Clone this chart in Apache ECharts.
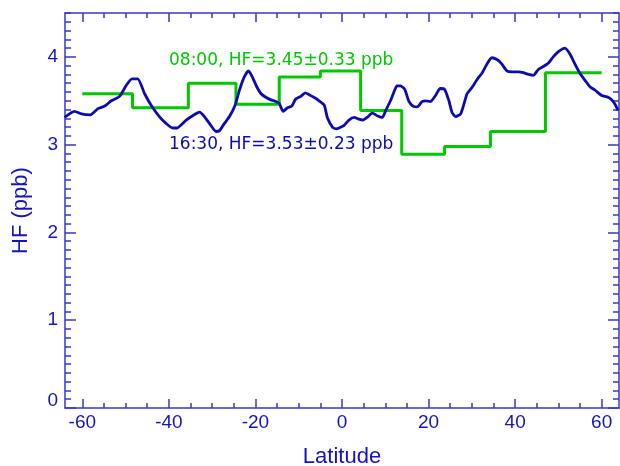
<!DOCTYPE html>
<html>
<head>
<meta charset="utf-8">
<script src="https://cdn.jsdelivr.net/npm/echarts@6/dist/echarts.min.js"></script>
<style>
  html, body { margin: 0; padding: 0; background: #fff; }
  #chart { width: 620px; height: 466px; }
</style>
</head>
<body>
<div id="chart"></div>
<script>
// blue trace, 16:30 (latitude, HF ppb)
const lat1630 = [-64.1, -61.8, -60.2, -58.1, -56.4, -54.8, -53.3, -51.4, -49.8, -48.5, -47.2, -45.6, -44.1, -42.2, -40.6, -39.1, -38.2, -36.0, -34.5, -32.9,
  -31.8, -30.6, -29.1, -28.3, -27.2, -26.0, -24.7, -23.7, -22.6, -21.6, -20.7, -19.7, -18.7, -17.6, -16.4, -15.7, -14.5, -13.6, -12.6, -11.6,
  -10.7, -9.5, -8.5, -7.6, -6.5, -5.3, -4.1, -3.4, -2.2, -1.3, -0.7, 0.5, 1.6, 2.8, 3.9, 4.8, 5.8, 7.0, 8.1, 9.3,
  10.1, 11.2, 12.0, 12.7, 13.5, 14.5, 15.4, 16.4, 17.4, 18.5, 19.4, 20.4, 21.6, 22.7, 23.7, 24.7, 25.4, 26.3, 27.4, 28.1,
  28.9, 30.0, 30.8, 31.6, 32.3, 33.5, 34.6, 35.8, 36.9, 38.1, 39.2, 40.8, 41.9, 43.1, 44.2, 45.4, 46.5, 47.7, 48.8, 50.0,
  51.5, 52.7, 53.8, 55.0, 56.2, 57.3, 58.5, 60.0, 61.5, 62.7, 63.8]
const hf1630 = [3.31, 3.38, 3.35, 3.34, 3.41, 3.44, 3.50, 3.55, 3.68, 3.75, 3.75, 3.58, 3.45, 3.32, 3.24, 3.19, 3.19, 3.28, 3.33, 3.37,
  3.32, 3.24, 3.15, 3.16, 3.24, 3.32, 3.45, 3.62, 3.77, 3.84, 3.77, 3.66, 3.58, 3.54, 3.51, 3.50, 3.47, 3.38, 3.42, 3.44,
  3.52, 3.55, 3.59, 3.57, 3.54, 3.50, 3.45, 3.31, 3.20, 3.18, 3.19, 3.22, 3.28, 3.31, 3.29, 3.28, 3.31, 3.36, 3.33, 3.31,
  3.39, 3.50, 3.60, 3.67, 3.67, 3.63, 3.50, 3.44, 3.43, 3.49, 3.50, 3.49, 3.56, 3.64, 3.63, 3.50, 3.37, 3.32, 3.35, 3.45,
  3.58, 3.65, 3.71, 3.77, 3.81, 3.92, 3.99, 3.97, 3.92, 3.84, 3.83, 3.83, 3.82, 3.80, 3.79, 3.86, 3.89, 3.93, 4.00, 4.06,
  4.10, 4.03, 3.92, 3.81, 3.73, 3.66, 3.62, 3.56, 3.54, 3.49, 3.39]

// green steps, 08:00 (left edge of each bin, last entry closes the final bin)
const lat0800 = [-60, -48.4, -35.5, -24.5, -14.5, -5.0, 4.3, 13.8, 23.7, 34.3, 47.0, 60]
const hf0800 = [3.58, 3.42, 3.70, 3.46, 3.77, 3.84, 3.39, 2.89, 2.98, 3.15, 3.82, 3.82]

const xMajor = [-60, -40, -20, 0, 20, 40, 60]
const xMinor = [-60, -55, -50, -45, -40, -35, -30, -25, -20, -15, -10, -5, 0, 5, 10, 15, 20, 25, 30, 35, 40, 45, 50, 55, 60]
const yMajor = [0, 1, 2, 3, 4]
const yMinor = [0, 0.1, 0.2, 0.3, 0.4, 0.5, 0.6, 0.7, 0.8, 0.9, 1, 1.1, 1.2, 1.3, 1.4, 1.5, 1.6, 1.7, 1.8, 1.9,
  2, 2.1, 2.2, 2.3, 2.4, 2.5, 2.6, 2.7, 2.8, 2.9, 3, 3.1, 3.2, 3.3, 3.4, 3.5, 3.6, 3.7, 3.8, 3.9, 4, 4.1, 4.2, 4.3, 4.4, 4.5]

const label0800 = '08:00, HF=3.45\u00b10.33 ppb'
const label1630 = '16:30, HF=3.53\u00b10.23 ppb'

const axisColor = '#3838c8'
const textColor = '#1414c4'
const lineBlue = '#0c0cae'
const lineGreen = '#00c800'

const chart = echarts.init(document.getElementById('chart'))

// a bare axis that only draws ticks (and optionally its line)
const tickAxis = (dim, position, ticks, len, showLine) => {
  const ax = {
    type: 'value',
    position: position,
    min: dim === 'x' ? -64 : 0,
    max: dim === 'x' ? 64 : 4.5,
    axisLine: { show: showLine, onZero: false, lineStyle: { color: axisColor, width: 1.5 } },
    axisTick: { show: true, inside: true, length: len, customValues: ticks, lineStyle: { color: axisColor, width: 1.5 } },
    axisLabel: { show: false },
    splitLine: { show: false }
  }
  return ax
}

const xBottom = tickAxis('x', 'bottom', xMajor, 9, true)
xBottom.name = 'Latitude'
xBottom.nameLocation = 'middle'
xBottom.nameGap = 38
xBottom.nameTextStyle = { color: textColor, fontSize: 22, fontFamily: 'Liberation Sans' }
xBottom.axisLabel = { show: true, customValues: xMajor, color: textColor, fontSize: 19, fontFamily: 'Liberation Sans', margin: 5 }

const yLeft = tickAxis('y', 'left', yMajor, 11, true)
yLeft.name = 'HF (ppb)'
yLeft.nameLocation = 'middle'
yLeft.nameGap = 33
yLeft.nameTextStyle = { color: textColor, fontSize: 22, fontFamily: 'Liberation Sans' }
yLeft.axisLabel = { show: true, customValues: [1, 2, 3, 4], color: textColor, fontSize: 19, fontFamily: 'Liberation Sans', margin: 7 }

// the zero label sits a little above its tick
const yLeftMinor = tickAxis('y', 'left', yMinor, 6, false)
yLeftMinor.axisLabel = { show: true, customValues: [0], color: textColor, fontSize: 19, fontFamily: 'Liberation Sans', margin: 7, verticalAlign: 'bottom', lineHeight: 14 }

const option = {
  animation: false,
  backgroundColor: '#fff',
  grid: { left: 65, right: 1, top: 13, bottom: 58, outerBoundsMode: 'none', containLabel: false },
  xAxis: [
    xBottom,
    tickAxis('x', 'bottom', xMinor, 5, false),
    tickAxis('x', 'top', xMajor, 9, true),
    tickAxis('x', 'top', xMinor, 5, false)
  ],
  yAxis: [
    yLeft,
    yLeftMinor,
    tickAxis('y', 'right', yMajor, 11, true),
    tickAxis('y', 'right', yMinor, 6, false)
  ],
  series: [
    {
      name: '08:00',
      type: 'line',
      step: 'end',
      xAxisIndex: 0,
      yAxisIndex: 0,
      showSymbol: false,
      lineStyle: { color: lineGreen, width: 3 },
      data: lat0800.map((x, i) => [x, hf0800[i]])
    },
    {
      name: '16:30',
      type: 'line',
      xAxisIndex: 0,
      yAxisIndex: 0,
      showSymbol: false,
      smooth: 0.2,
      clip: true,
      lineStyle: { color: lineBlue, width: 2.8 },
      data: lat1630.map((x, i) => [x, hf1630[i]])
    }
  ],
  graphic: [
    {
      type: 'text',
      left: 169,
      top: 52,
      style: { text: label0800, fill: lineGreen, font: '17px "DejaVu Sans"' }
    },
    {
      type: 'text',
      left: 169,
      top: 136,
      style: { text: label1630, fill: lineBlue, font: '17px "DejaVu Sans"' }
    }
  ]
}
chart.setOption(option)
</script>
</body>
</html>
